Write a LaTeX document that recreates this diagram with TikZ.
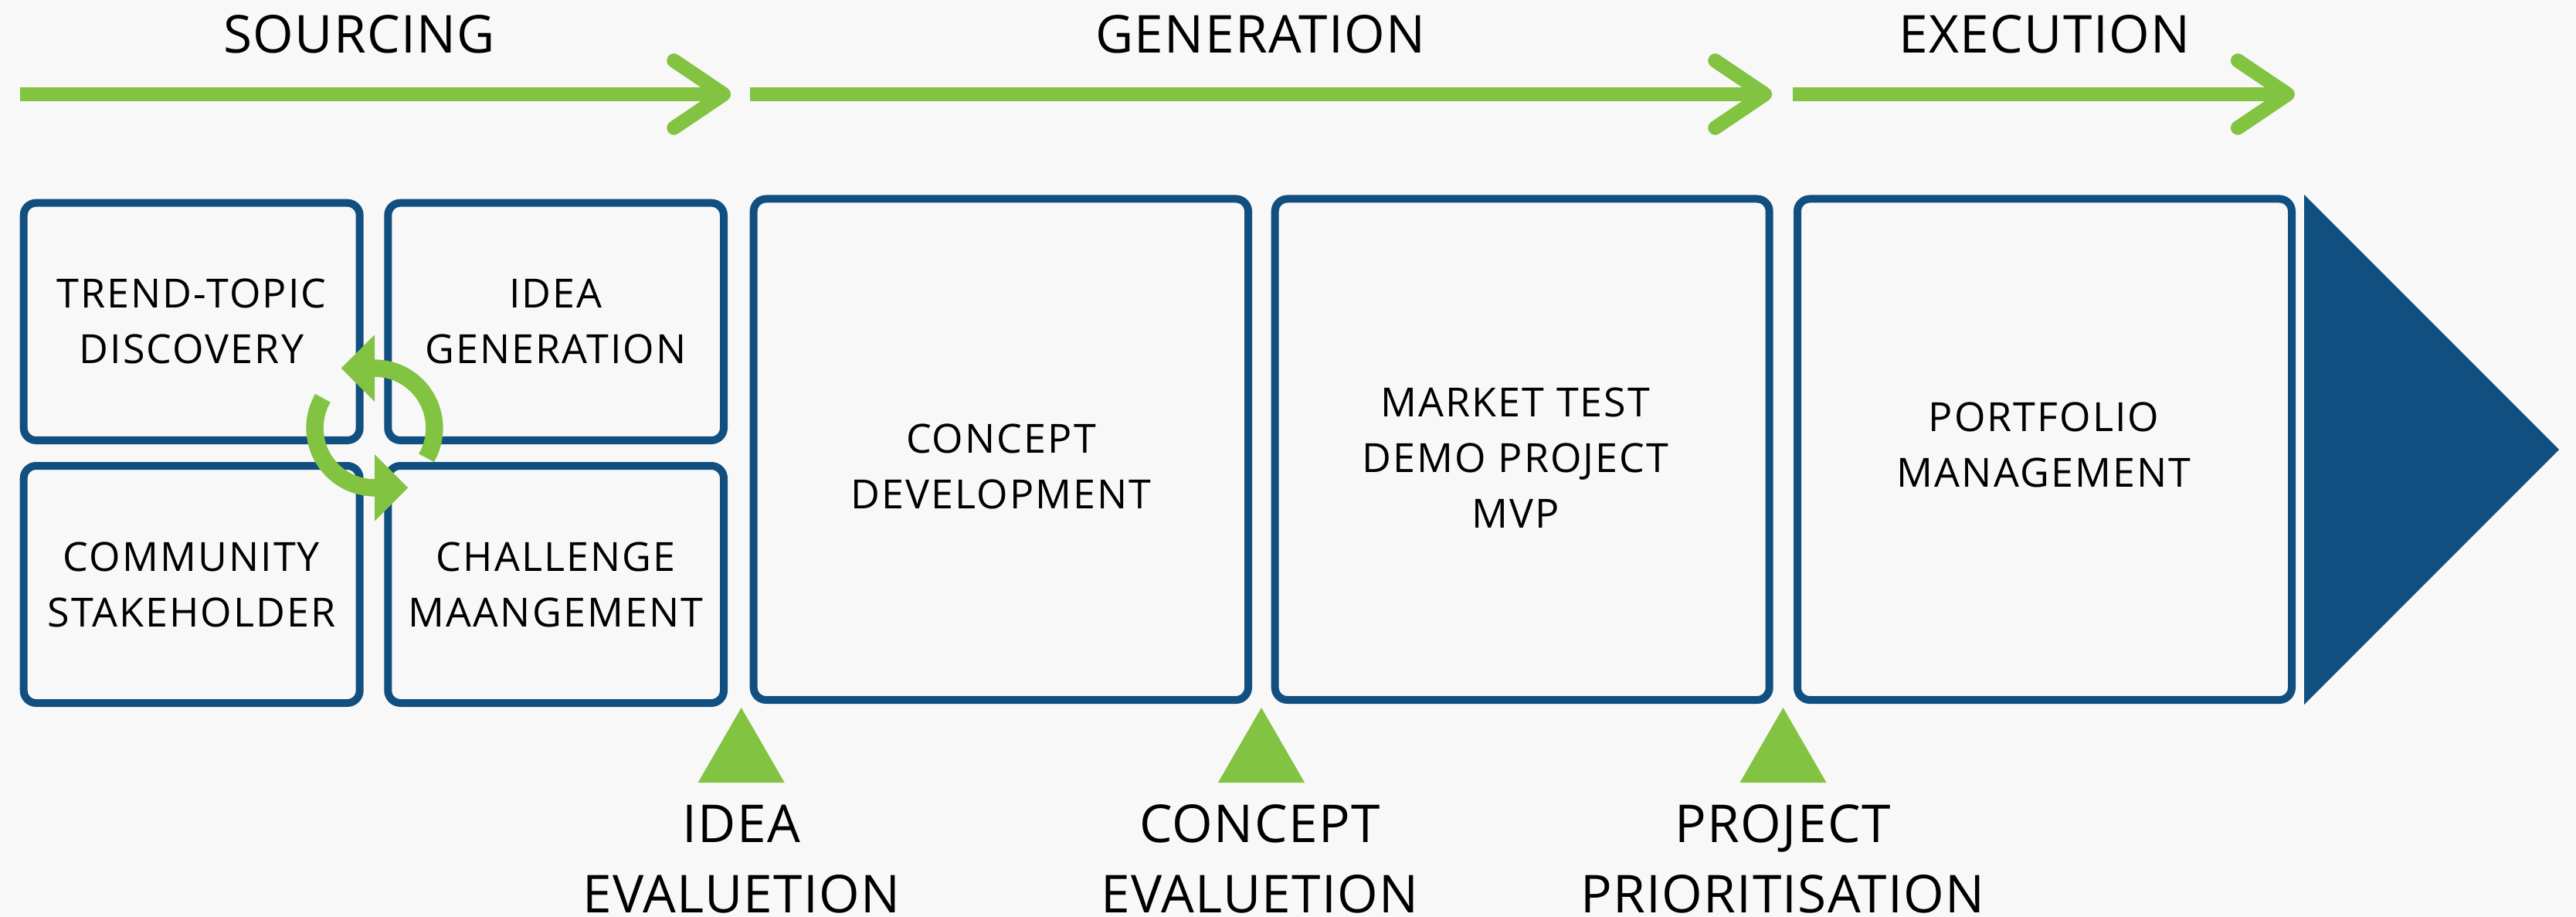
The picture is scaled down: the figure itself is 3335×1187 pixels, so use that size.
\documentclass[tikz,border=0pt]{standalone}
\usepackage{fontspec}
\setmainfont{Open Sans}
\newfontfamily\boxfont[LetterSpace=4.0]{Open Sans}
\newfontfamily\labfont[LetterSpace=2.0]{Open Sans}
\usetikzlibrary{fit}
\definecolor{navy}{RGB}{16,79,128}
\definecolor{leaf}{RGB}{130,195,65}
\definecolor{paper}{RGB}{248,248,248}
\begin{document}
\begin{tikzpicture}[x=0.25pt,y=-0.25pt,
  box/.style={draw=navy, line width=2.5pt, rounded corners=4pt, inner sep=0pt, fit={#1}},
  boxtext/.style={font=\boxfont\fontsize{13pt}{18pt}\selectfont, align=center, inner sep=0pt, text depth=0pt},
  phase/.style={font=\labfont\fontsize{16.9pt}{22.75pt}\selectfont, inner sep=0pt, anchor=base},
  gate/.style={font=\labfont\fontsize{16.9pt}{22.75pt}\selectfont, align=center, inner sep=0pt, text depth=0pt},
  rail/.style={draw=leaf, line width=4.6pt, line cap=butt},
  chev/.style={draw=leaf, line width=4.6pt, line cap=round, line join=round},
  cycler/.style={draw=leaf, line width=5.6pt, line cap=butt},
]
\useasboundingbox (0,0) rectangle (3335,1187);
\fill[paper] (0,0) rectangle (3335,1187);

% phase labels
\node[phase] (lsrc) at (465,68.5) {SOURCING};
\node[phase] (lgen) at (1632,68.5) {GENERATION};
\node[phase] (lexe) at (2647,68.5) {EXECUTION};

% top arrows
\coordinate (a1s) at (25.5,122);  \coordinate (a1e) at (925,122);  \coordinate (a1t) at (937,122);
\coordinate (a2s) at (970.7,122); \coordinate (a2e) at (2273,122); \coordinate (a2t) at (2285,122);
\coordinate (a3s) at (2321,122);  \coordinate (a3e) at (2950,122); \coordinate (a3t) at (2961.7,122);
\draw[rail] (a1s) -- (a1e);
\draw[chev] (a1t) ++(-64.5,-43.5) -- (a1t) -- ++(-64.5,43.5);
\draw[rail] (a2s) -- (a2e);
\draw[chev] (a2t) ++(-64.5,-43.5) -- (a2t) -- ++(-64.5,43.5);
\draw[rail] (a3s) -- (a3e);
\draw[chev] (a3t) ++(-64.5,-43.5) -- (a3t) -- ++(-64.5,43.5);

% boxes
\node[box={(30.7,262.7) (465.7,570)}] (b1) {};
\node[box={(502.3,262.7) (937,570)}] (b2) {};
\node[box={(30.7,603) (465.7,910)}] (b3) {};
\node[box={(502.3,603) (937,910)}] (b4) {};
\node[box={(975.7,257.5) (1616,906)}] (b5) {};
\node[box={(1650.7,257.5) (2290.7,906)}] (b6) {};
\node[box={(2327,257.5) (2967,906)}] (b7) {};

% box texts
\node[boxtext] (t1) at (248,415.7) {TREND-TOPIC\\DISCOVERY};
\node[boxtext] (t2) at (719.6,415.7) {IDEA\\GENERATION};
\node[boxtext] (t3) at (248,756.5) {COMMUNITY\\STAKEHOLDER};
\node[boxtext] (t4) at (719.6,756.5) {CHALLENGE\\MAANGEMENT};
\node[boxtext] (t5) at (1296,604) {CONCEPT\\DEVELOPMENT};
\node[boxtext] (t6) at (1962,592.5) {MARKET TEST\\DEMO PROJECT\\MVP};
\node[boxtext] (t7) at (2646,575.5) {PORTFOLIO\\MANAGEMENT};

% big navy arrow head
\fill[navy] (2983,252) -- (3313,582) -- (2983,912) -- cycle;

% gate markers
\fill[leaf] (959.7,916) -- (1015.7,1013) -- (903.7,1013) -- cycle;
\fill[leaf] (1633,916) -- (1689,1013) -- (1577,1013) -- cycle;
\fill[leaf] (2308.5,916) -- (2364.5,1013) -- (2252.5,1013) -- cycle;

\node[gate] (g1) at (960,1111.5) {IDEA\\EVALUETION};
\node[gate] (g2) at (1631,1111.5) {CONCEPT\\EVALUETION};
\node[gate] (g3) at (2308,1111.5) {PROJECT\\PRIORITISATION};

% cycle arrows
\coordinate (cyc) at (485,554);
\draw[cycler] (cyc) ++(30:77.4) arc[start angle=30, end angle=-92, radius=77.4];
\fill[leaf] (485,433.3) -- (485,519.9) -- (441.7,476.6) -- cycle;
\draw[cycler] (cyc) ++(210:77.4) arc[start angle=210, end angle=88, radius=77.4];
\fill[leaf] (485,588.1) -- (485,674.7) -- (528.3,631.4) -- cycle;
\end{tikzpicture}
\end{document}
